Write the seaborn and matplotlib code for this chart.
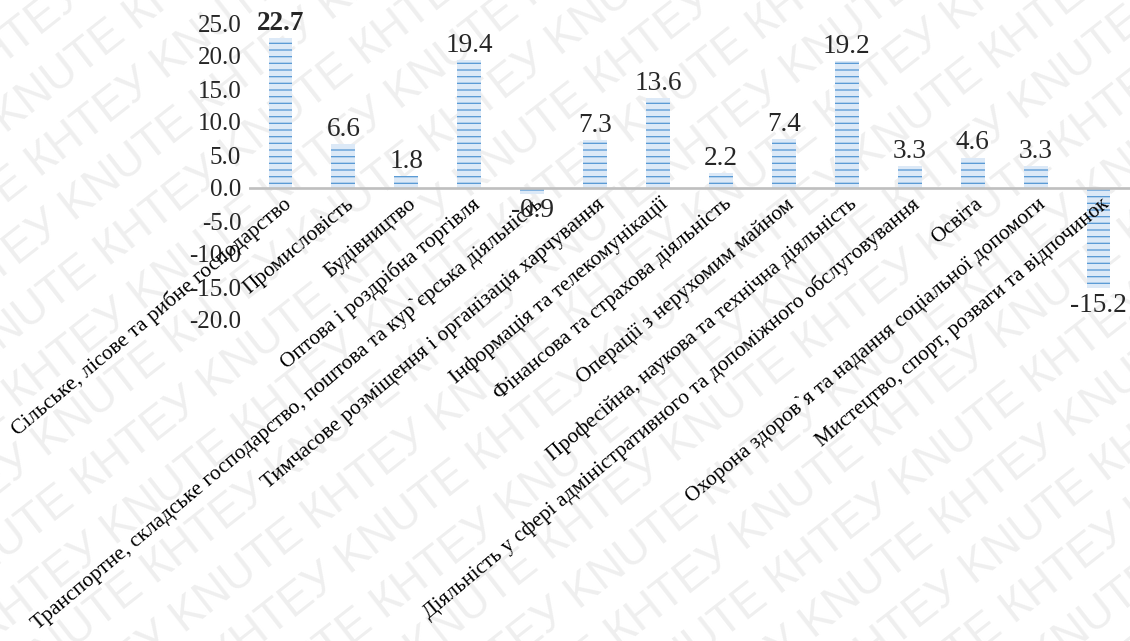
import numpy as np
import pandas as pd
import matplotlib
matplotlib.use("Agg")
import matplotlib.pyplot as plt
import matplotlib.transforms as mtrans
import seaborn as sns

# ------- DATA -------

categories = [
    "Сільське, лісове та рибне господарство",
    "Промисловість",
    "Будівництво",
    "Оптова і роздрібна торгівля",
    "Транспортне, складське господарство, поштова та кур`єрська діяльність",
    "Тимчасове розміщення і організація харчування",
    "Інформація та телекомунікації",
    "Фінансова та страхова діяльність",
    "Операції з нерухомим майном",
    "Професійна, наукова та технічна діяльність",
    "Діяльність у сфері адміністративного та допоміжного обслуговування",
    "Освіта",
    "Охорона здоров`я та надання соціальної допомоги",
    "Мистецтво, спорт, розваги та відпочинок",
]
values = [22.7, 6.6, 1.8, 19.4, -0.9, 7.3, 13.6, 2.2, 7.4, 19.2, 3.3, 4.6, 3.3, -15.2]
y_ticks = [-20, -15, -10, -5, 0, 5, 10, 15, 20, 25]
watermark_words = ["КНТЕУ", "KNUTE"]

df = pd.DataFrame({"cat": categories, "val": values})

# ------- STYLE -------

sns.set_style("white")
plt.rcParams["font.family"] = ["Liberation Serif", "DejaVu Serif"]
plt.rcParams["axes.unicode_minus"] = False
plt.rcParams["hatch.linewidth"] = 1.2

DPI = 80
W, H = 1130, 641
fig = plt.figure(figsize=(W / DPI, H / DPI), dpi=DPI)
fig.patch.set_facecolor("white")

# watermark, kept inside a full-figure axes so it is clipped there
wm = fig.add_axes([0, 0, 1, 1])
wm.set_xlim(0, W)
wm.set_ylim(0, H)
wm.axis("off")
ang = 38
u = np.array([np.cos(np.radians(ang)), np.sin(np.radians(ang))])
n = np.array([-u[1], u[0]])
for k in range(-12, 13):
    c = np.array([565, 320]) + k * 56 * n
    first = watermark_words[k % 2]
    second = watermark_words[(k + 1) % 2]
    txt = (first + " " + second + " ") * 8
    wm.text(c[0], c[1], txt, rotation=ang, rotation_mode="anchor",
            ha="center", va="center", fontsize=41, color="#efefef",
            family=["Liberation Sans", "DejaVu Sans"], clip_on=True)

ax = fig.add_axes([249 / W, 1 - 320 / H, 1 - 249 / W, (320 - 23) / H])
ax.set_facecolor("none")

sns.barplot(data=df, x="cat", y="val", order=categories, color="#dce9f7",
            saturation=1, width=0.38, hatch="--", edgecolor="#5b9bd5",
            linewidth=0, ax=ax, zorder=2)

ax.axhline(0, color="#bfbfbf", lw=2.4, zorder=3)
ax.set_xlim(-0.5, len(categories) - 0.5)
ax.set_ylim(-20, 25)
ax.set_yticks(y_ticks)
ax.set_yticklabels([f"{t:.1f}" for t in y_ticks], fontsize=22.5)
ax.tick_params(axis="y", length=0, pad=7)
ax.set_xticks([])
ax.set_xlabel("")
ax.set_ylabel("")
for s in ax.spines.values():
    s.set_visible(False)

# category labels near zero line
lab_tr = ax.transData + mtrans.ScaledTranslation(8 / DPI, -14 / DPI, fig.dpi_scale_trans)
for i, cat in enumerate(categories):
    ax.text(i, 0, cat, transform=lab_tr, rotation=40, rotation_mode="anchor",
            ha="right", va="center", fontsize=19.2, color="black", zorder=4)

# value labels
for i, v in enumerate(values):
    w = "bold" if i == 0 else "normal"
    if v >= 0:
        ax.annotate(f"{v:.1f}", (i, v), xytext=(0, 2), textcoords="offset points",
                    ha="center", va="bottom", fontsize=24.5, fontweight=w, zorder=4)
    else:
        ax.annotate(f"{v:.1f}", (i, v), xytext=(0, -4), textcoords="offset points",
                    ha="center", va="top", fontsize=24.5, fontweight=w, zorder=4)

fig.savefig("out.png", dpi=DPI)
